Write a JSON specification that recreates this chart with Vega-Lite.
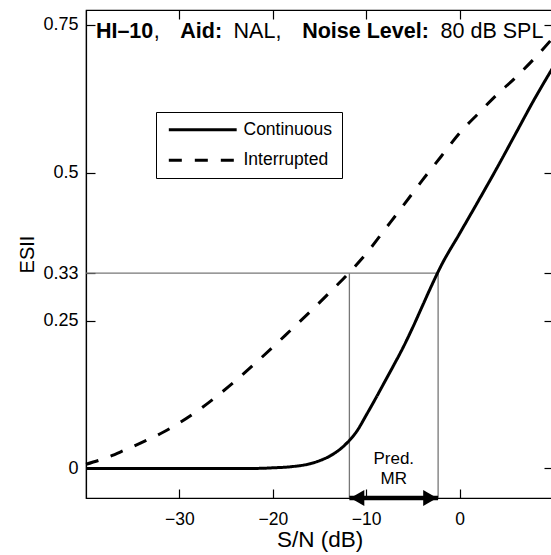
{
  "$schema": "https://vega.github.io/schema/vega-lite/v6.json",
  "autosize": "none",
  "width": 467,
  "height": 488,
  "padding": {"left": 86, "top": 10, "right": 0, "bottom": 57},
  "background": "white",
  "config": {
    "view": {"stroke": "black", "strokeWidth": 1.2},
    "font": "Liberation Sans",
    "axis": {
      "labelFont": "Liberation Sans",
      "titleFont": "Liberation Sans",
      "labelColor": "black",
      "titleColor": "black",
      "domainColor": "black",
      "tickColor": "black",
      "domainWidth": 1.2,
      "tickWidth": 1.2,
      "grid": false,
      "titleFontWeight": "normal"
    }
  },
  "datasets": {
    "curves": [
      {"sn": -40, "esii": 0.0, "condition": "Continuous"},
      {"sn": -30, "esii": 0.0, "condition": "Continuous"},
      {"sn": -24, "esii": 0.0, "condition": "Continuous"},
      {"sn": -22, "esii": 0.0, "condition": "Continuous"},
      {"sn": -20, "esii": 0.001, "condition": "Continuous"},
      {"sn": -18, "esii": 0.003, "condition": "Continuous"},
      {"sn": -16, "esii": 0.008, "condition": "Continuous"},
      {"sn": -15, "esii": 0.013, "condition": "Continuous"},
      {"sn": -14, "esii": 0.02, "condition": "Continuous"},
      {"sn": -13, "esii": 0.03, "condition": "Continuous"},
      {"sn": -12, "esii": 0.044, "condition": "Continuous"},
      {"sn": -11, "esii": 0.063, "condition": "Continuous"},
      {"sn": -10, "esii": 0.09, "condition": "Continuous"},
      {"sn": -9, "esii": 0.118, "condition": "Continuous"},
      {"sn": -8, "esii": 0.147, "condition": "Continuous"},
      {"sn": -7, "esii": 0.176, "condition": "Continuous"},
      {"sn": -6, "esii": 0.206, "condition": "Continuous"},
      {"sn": -5, "esii": 0.239, "condition": "Continuous"},
      {"sn": -4, "esii": 0.274, "condition": "Continuous"},
      {"sn": -3, "esii": 0.309, "condition": "Continuous"},
      {"sn": -2, "esii": 0.342, "condition": "Continuous"},
      {"sn": 0, "esii": 0.397, "condition": "Continuous"},
      {"sn": 2, "esii": 0.452, "condition": "Continuous"},
      {"sn": 4, "esii": 0.508, "condition": "Continuous"},
      {"sn": 6, "esii": 0.566, "condition": "Continuous"},
      {"sn": 8, "esii": 0.624, "condition": "Continuous"},
      {"sn": 10, "esii": 0.678, "condition": "Continuous"},
      {"sn": -40, "esii": 0.007, "condition": "Interrupted"},
      {"sn": -38, "esii": 0.017, "condition": "Interrupted"},
      {"sn": -36, "esii": 0.03, "condition": "Interrupted"},
      {"sn": -34, "esii": 0.044, "condition": "Interrupted"},
      {"sn": -32, "esii": 0.059, "condition": "Interrupted"},
      {"sn": -30, "esii": 0.077, "condition": "Interrupted"},
      {"sn": -28, "esii": 0.098, "condition": "Interrupted"},
      {"sn": -26, "esii": 0.122, "condition": "Interrupted"},
      {"sn": -24, "esii": 0.148, "condition": "Interrupted"},
      {"sn": -22, "esii": 0.176, "condition": "Interrupted"},
      {"sn": -20, "esii": 0.205, "condition": "Interrupted"},
      {"sn": -18, "esii": 0.235, "condition": "Interrupted"},
      {"sn": -16, "esii": 0.265, "condition": "Interrupted"},
      {"sn": -14, "esii": 0.296, "condition": "Interrupted"},
      {"sn": -12, "esii": 0.328, "condition": "Interrupted"},
      {"sn": -10, "esii": 0.363, "condition": "Interrupted"},
      {"sn": -8, "esii": 0.404, "condition": "Interrupted"},
      {"sn": -6, "esii": 0.445, "condition": "Interrupted"},
      {"sn": -4, "esii": 0.487, "condition": "Interrupted"},
      {"sn": -2, "esii": 0.527, "condition": "Interrupted"},
      {"sn": 0, "esii": 0.567, "condition": "Interrupted"},
      {"sn": 2, "esii": 0.6, "condition": "Interrupted"},
      {"sn": 4, "esii": 0.632, "condition": "Interrupted"},
      {"sn": 6, "esii": 0.661, "condition": "Interrupted"},
      {"sn": 8, "esii": 0.693, "condition": "Interrupted"},
      {"sn": 10, "esii": 0.728, "condition": "Interrupted"}
    ]
  },
  "layer": [
    {
      "data": {"values": [{"sn": -40, "sn2": -2.3, "esii": 0.33}]},
      "mark": {"type": "rule", "color": "#777777", "strokeWidth": 1.3},
      "encoding": {
        "x": {"field": "sn", "type": "quantitative", "scale": {"domain": [-40, 10], "nice": false, "zero": false},
              "axis": {"orient": "bottom", "values": [-30, -20, -10, 0], "format": "d", "tickSize": -9, "labelFontSize": 17.5, "labelPadding": 21, "title": "S/N (dB)", "titleFontSize": 22.5, "titlePadding": 1}},
        "x2": {"field": "sn2"},
        "y": {"field": "esii", "type": "quantitative", "scale": {"domain": [-0.05, 0.775], "nice": false, "zero": false},
              "axis": {"orient": "left", "values": [0, 0.25, 0.33, 0.5, 0.75], "format": ".2~f", "tickSize": -9, "labelFontSize": 18, "labelPadding": 17, "title": "ESII", "titleFontSize": 20, "titlePadding": 5}}
      }
    },
    {
      "data": {"values": [{"sn": -11.8, "lo": -0.05, "hi": 0.33}, {"sn": -2.3, "lo": -0.05, "hi": 0.33}]},
      "mark": {"type": "rule", "color": "#777777", "strokeWidth": 1.3},
      "encoding": {
        "x": {"field": "sn", "type": "quantitative", "axis": {"orient": "top", "values": [-30, -20, -10, 0], "tickSize": -9, "labels": false, "title": null}},
        "y": {"field": "lo", "type": "quantitative", "axis": {"orient": "right", "values": [0, 0.25, 0.33, 0.5, 0.75], "tickSize": -9, "labels": false, "title": null}},
        "y2": {"field": "hi"}
      }
    },
    {
      "data": {"name": "curves"},
      "mark": {"type": "line", "color": "black", "strokeWidth": 3, "strokeCap": "butt", "interpolate": "monotone"},
      "encoding": {
        "x": {"field": "sn", "type": "quantitative", "axis": null},
        "y": {"field": "esii", "type": "quantitative", "axis": null},
        "strokeDash": {
          "field": "condition", "type": "nominal",
          "scale": {"domain": ["Continuous", "Interrupted"], "range": [[1, 0], [13, 13]]},
          "legend": {
            "title": null, "orient": "none", "legendX": 70, "legendY": 102,
            "strokeColor": "black", "fillColor": "white", "padding": 9,
            "symbolType": "M-7,0H7", "symbolSize": 94, "symbolOffset": 29, "symbolStrokeWidth": 3, "symbolStrokeColor": "black",
            "labelFont": "Liberation Sans", "labelFontSize": 17.5, "labelColor": "black", "labelOffset": 32, "rowPadding": 11.5
          }
        }
      }
    },
    {
      "data": {"values": [{"a": -11.8, "b": -2.3}]},
      "mark": {"type": "rule", "color": "black", "strokeWidth": 4.5},
      "encoding": {
        "x": {"field": "a", "type": "quantitative", "axis": null},
        "x2": {"field": "b"},
        "y": {"datum": -0.05, "axis": null}
      }
    },
    {
      "data": {"values": [{"tip": -11.8}]},
      "mark": {"type": "point", "shape": "triangle-left", "filled": true, "color": "black", "opacity": 1, "size": 256, "xOffset": 8},
      "encoding": {"x": {"field": "tip", "type": "quantitative", "axis": null}, "y": {"datum": -0.05, "axis": null}}
    },
    {
      "data": {"values": [{"tip": -2.3}]},
      "mark": {"type": "point", "shape": "triangle-right", "filled": true, "color": "black", "opacity": 1, "size": 256, "xOffset": -8},
      "encoding": {"x": {"field": "tip", "type": "quantitative", "axis": null}, "y": {"datum": -0.05, "axis": null}}
    },
    {
      "data": {"values": [{"sn": -7.05, "esii": 0.0155, "label": ["Pred.", "MR"]}]},
      "mark": {"type": "text", "font": "Liberation Sans", "fontSize": 17, "color": "black", "align": "center", "baseline": "middle", "lineHeight": 20},
      "encoding": {"x": {"field": "sn", "type": "quantitative", "axis": null}, "y": {"field": "esii", "type": "quantitative", "axis": null}, "text": {"field": "label"}}
    },
    {
      "data": {"values": [
        {"sn": -38.94, "label": "HI–10"},
        {"sn": -29.9, "label": "Aid:"},
        {"sn": -16.86, "label": "Noise Level:"}
      ]},
      "mark": {"type": "text", "font": "Liberation Sans", "fontSize": 21.5, "fontWeight": "bold", "color": "black", "align": "left", "baseline": "alphabetic"},
      "encoding": {
        "x": {"field": "sn", "type": "quantitative", "axis": null},
        "y": {"datum": 0.727, "axis": null},
        "text": {"field": "label"}
      }
    },
    {
      "data": {"values": [
        {"sn": -32.75, "label": ","},
        {"sn": -24.2, "label": "NAL,"},
        {"sn": -2.04, "label": "80 dB SPL"}
      ]},
      "mark": {"type": "text", "font": "Liberation Sans", "fontSize": 21.5, "fontWeight": "normal", "color": "black", "align": "left", "baseline": "alphabetic"},
      "encoding": {
        "x": {"field": "sn", "type": "quantitative", "axis": null},
        "y": {"datum": 0.727, "axis": null},
        "text": {"field": "label"}
      }
    }
  ],
  "resolve": {"axis": {"x": "independent", "y": "independent"}}
}
